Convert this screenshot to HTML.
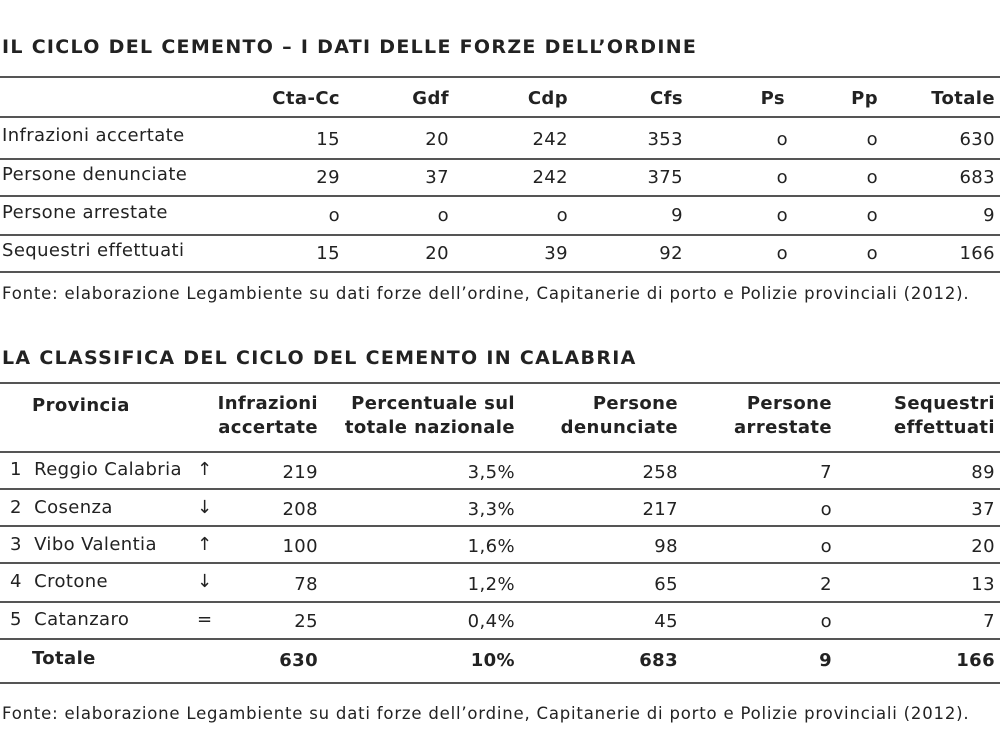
<!DOCTYPE html>
<html><head><meta charset="utf-8"><style>
body{margin:0;width:1000px;height:750px;background:#fff;position:relative;font-family:"DejaVu Sans","Liberation Sans",sans-serif;color:#222;overflow:hidden}
div{position:absolute;white-space:nowrap}
.h{height:2px;background:#555;left:0;width:1000px}
.t{font-weight:bold;font-size:19px;letter-spacing:1.3px;left:2px}
.c{font-size:18px;line-height:20px;letter-spacing:0.4px}
.r{text-align:right}
.b{font-weight:bold}
.f{font-size:16.5px;left:2px;letter-spacing:0.8px}
</style></head><body>
<div class="t" style="top:36px">IL CICLO DEL CEMENTO – I DATI DELLE FORZE DELL’ORDINE</div>
<div class="h" style="top:76px"></div>
<div class="h" style="top:116px"></div>
<div class="h" style="top:158px"></div>
<div class="h" style="top:195px"></div>
<div class="h" style="top:234px"></div>
<div class="h" style="top:271px"></div>

<div class="c b r" style="top:89px;right:660px">Cta-Cc</div>
<div class="c b r" style="top:89px;right:551px">Gdf</div>
<div class="c b r" style="top:89px;right:432px">Cdp</div>
<div class="c b r" style="top:89px;right:317px">Cfs</div>
<div class="c b r" style="top:89px;right:215px">Ps</div>
<div class="c b r" style="top:89px;right:122px">Pp</div>
<div class="c b r" style="top:89px;right:5px">Totale</div>

<div class="c" style="top:126px;left:2px">Infrazioni accertate</div>
<div class="c" style="top:165px;left:2px">Persone denunciate</div>
<div class="c" style="top:203px;left:2px">Persone arrestate</div>
<div class="c" style="top:241px;left:2px">Sequestri effettuati</div>

<div class="c r" style="top:130px;right:660px">15</div><div class="c r" style="top:130px;right:551px">20</div><div class="c r" style="top:130px;right:432px">242</div><div class="c r" style="top:130px;right:317px">353</div><div class="c r" style="top:130px;right:212px">o</div><div class="c r" style="top:130px;right:122px">o</div><div class="c r" style="top:130px;right:5px">630</div>
<div class="c r" style="top:168px;right:660px">29</div><div class="c r" style="top:168px;right:551px">37</div><div class="c r" style="top:168px;right:432px">242</div><div class="c r" style="top:168px;right:317px">375</div><div class="c r" style="top:168px;right:212px">o</div><div class="c r" style="top:168px;right:122px">o</div><div class="c r" style="top:168px;right:5px">683</div>
<div class="c r" style="top:206px;right:660px">o</div><div class="c r" style="top:206px;right:551px">o</div><div class="c r" style="top:206px;right:432px">o</div><div class="c r" style="top:206px;right:317px">9</div><div class="c r" style="top:206px;right:212px">o</div><div class="c r" style="top:206px;right:122px">o</div><div class="c r" style="top:206px;right:5px">9</div>
<div class="c r" style="top:244px;right:660px">15</div><div class="c r" style="top:244px;right:551px">20</div><div class="c r" style="top:244px;right:432px">39</div><div class="c r" style="top:244px;right:317px">92</div><div class="c r" style="top:244px;right:212px">o</div><div class="c r" style="top:244px;right:122px">o</div><div class="c r" style="top:244px;right:5px">166</div>

<div class="f" style="top:284px">Fonte: elaborazione Legambiente su dati forze dell’ordine, Capitanerie di porto e Polizie provinciali (2012).</div>

<div class="t" style="top:347px">LA CLASSIFICA DEL CICLO DEL CEMENTO IN CALABRIA</div>
<div class="h" style="top:382px"></div>
<div class="h" style="top:451px"></div>
<div class="h" style="top:488px"></div>
<div class="h" style="top:525px"></div>
<div class="h" style="top:562px"></div>
<div class="h" style="top:601px"></div>
<div class="h" style="top:638px"></div>
<div class="h" style="top:682px"></div>

<div class="c b" style="top:396px;left:32px">Provincia</div>
<div class="c b r" style="right:682px;line-height:24px;top:392px">Infrazioni<br>accertate</div>
<div class="c b r" style="top:392px;right:485px;line-height:24px">Percentuale sul<br>totale nazionale</div>
<div class="c b r" style="top:392px;right:322px;line-height:24px">Persone<br>denunciate</div>
<div class="c b r" style="top:392px;right:168px;line-height:24px">Persone<br>arrestate</div>
<div class="c b r" style="top:392px;right:5px;line-height:24px">Sequestri<br>effettuati</div>

<div class="c" style="top:460px;left:10px">1&nbsp; Reggio Calabria</div><div class="c" style="top:460px;left:197px">↑</div>
<div class="c" style="top:498px;left:10px">2&nbsp; Cosenza</div><div class="c" style="top:498px;left:197px">↓</div>
<div class="c" style="top:535px;left:10px">3&nbsp; Vibo Valentia</div><div class="c" style="top:535px;left:197px">↑</div>
<div class="c" style="top:572px;left:10px">4&nbsp; Crotone</div><div class="c" style="top:572px;left:197px">↓</div>
<div class="c" style="top:610px;left:10px">5&nbsp; Catanzaro</div><div class="c" style="top:610px;left:197px">=</div>
<div class="c b" style="top:649px;left:32px">Totale</div>

<div class="c r" style="top:463px;right:682px">219</div><div class="c r" style="top:463px;right:485px">3,5%</div><div class="c r" style="top:463px;right:322px">258</div><div class="c r" style="top:463px;right:168px">7</div><div class="c r" style="top:463px;right:5px">89</div>
<div class="c r" style="top:500px;right:682px">208</div><div class="c r" style="top:500px;right:485px">3,3%</div><div class="c r" style="top:500px;right:322px">217</div><div class="c r" style="top:500px;right:168px">o</div><div class="c r" style="top:500px;right:5px">37</div>
<div class="c r" style="top:537px;right:682px">100</div><div class="c r" style="top:537px;right:485px">1,6%</div><div class="c r" style="top:537px;right:322px">98</div><div class="c r" style="top:537px;right:168px">o</div><div class="c r" style="top:537px;right:5px">20</div>
<div class="c r" style="top:575px;right:682px">78</div><div class="c r" style="top:575px;right:485px">1,2%</div><div class="c r" style="top:575px;right:322px">65</div><div class="c r" style="top:575px;right:168px">2</div><div class="c r" style="top:575px;right:5px">13</div>
<div class="c r" style="top:612px;right:682px">25</div><div class="c r" style="top:612px;right:485px">0,4%</div><div class="c r" style="top:612px;right:322px">45</div><div class="c r" style="top:612px;right:168px">o</div><div class="c r" style="top:612px;right:5px">7</div>
<div class="c b r" style="top:651px;right:682px">630</div><div class="c b r" style="top:651px;right:485px">10%</div><div class="c b r" style="top:651px;right:322px">683</div><div class="c b r" style="top:651px;right:168px">9</div><div class="c b r" style="top:651px;right:5px">166</div>

<div class="f" style="top:704px">Fonte: elaborazione Legambiente su dati forze dell’ordine, Capitanerie di porto e Polizie provinciali (2012).</div>
</body></html>
